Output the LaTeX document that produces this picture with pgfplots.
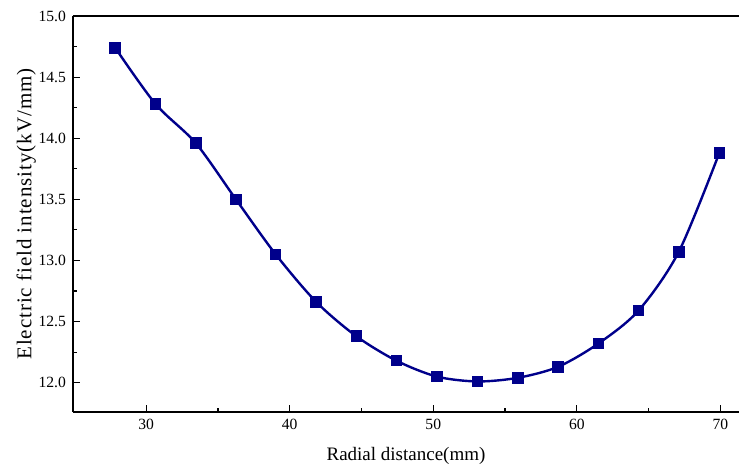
\documentclass[border=0pt]{standalone}
\usepackage{fontspec}
\setmainfont{Liberation Serif}
\usepackage{pgfplots}
\pgfplotsset{compat=1.18}
\definecolor{navyline}{RGB}{0,0,139}
\begin{document}
\begin{tikzpicture}
\begin{axis}[
  scale only axis, width=333pt, height=198pt,
  xmin=24.9, xmax=71.3, ymin=11.76, ymax=15.0,
  axis x line*=box, axis y line*=left,
  xtick={30,40,50,60,70}, minor xtick={35,45,55,65},
  ytick={12.0,12.5,13.0,13.5,14.0,14.5,15.0},
  minor ytick={12.25,12.75,13.25,13.75,14.25,14.75},
  xtick pos=bottom, ytick pos=left,
  tick align=inside,
  major tick length=3.5pt, minor tick length=2pt,
  tick style={black, line width=0.6pt},
  axis line style={black, line width=0.7pt},
  xticklabel={\pgfmathprintnumber[assume math mode=true]{\tick}},
  yticklabel={\pgfmathprintnumber[assume math mode=true, fixed, fixed zerofill, precision=1]{\tick}},
  tick label style={font=\fontsize{7.8}{9}\selectfont},
  xlabel style={font=\fontsize{9.5}{11}\selectfont, yshift=-2pt},
  ylabel style={font=\fontsize{10.5}{12}\selectfont\addfontfeature{LetterSpace=4.5}, yshift=-5.5pt},
  xlabel={Radial distance(mm)},
  ylabel={Electric field intensity(kV/mm)},
]
\addplot[navyline, line width=1.2pt, smooth, mark=square*, mark size=2.3pt,
  mark options={solid, fill=navyline, draw=navyline}] coordinates {
  (27.84,14.74) (30.65,14.28) (33.45,13.96) (36.25,13.50) (39.02,13.05)
  (41.85,12.66) (44.64,12.38) (47.43,12.18) (50.24,12.05) (53.07,12.01)
  (55.90,12.04) (58.70,12.13) (61.50,12.32) (64.30,12.59) (67.10,13.07)
  (69.93,13.88)
};
\coordinate (sw) at (rel axis cs:0,0);
\coordinate (ne) at (rel axis cs:1,1);
\end{axis}
\pgfresetboundingbox
\path ([xshift=-36.5pt,yshift=-27pt]sw) rectangle ([yshift=8pt]ne);
\end{tikzpicture}
\end{document}
